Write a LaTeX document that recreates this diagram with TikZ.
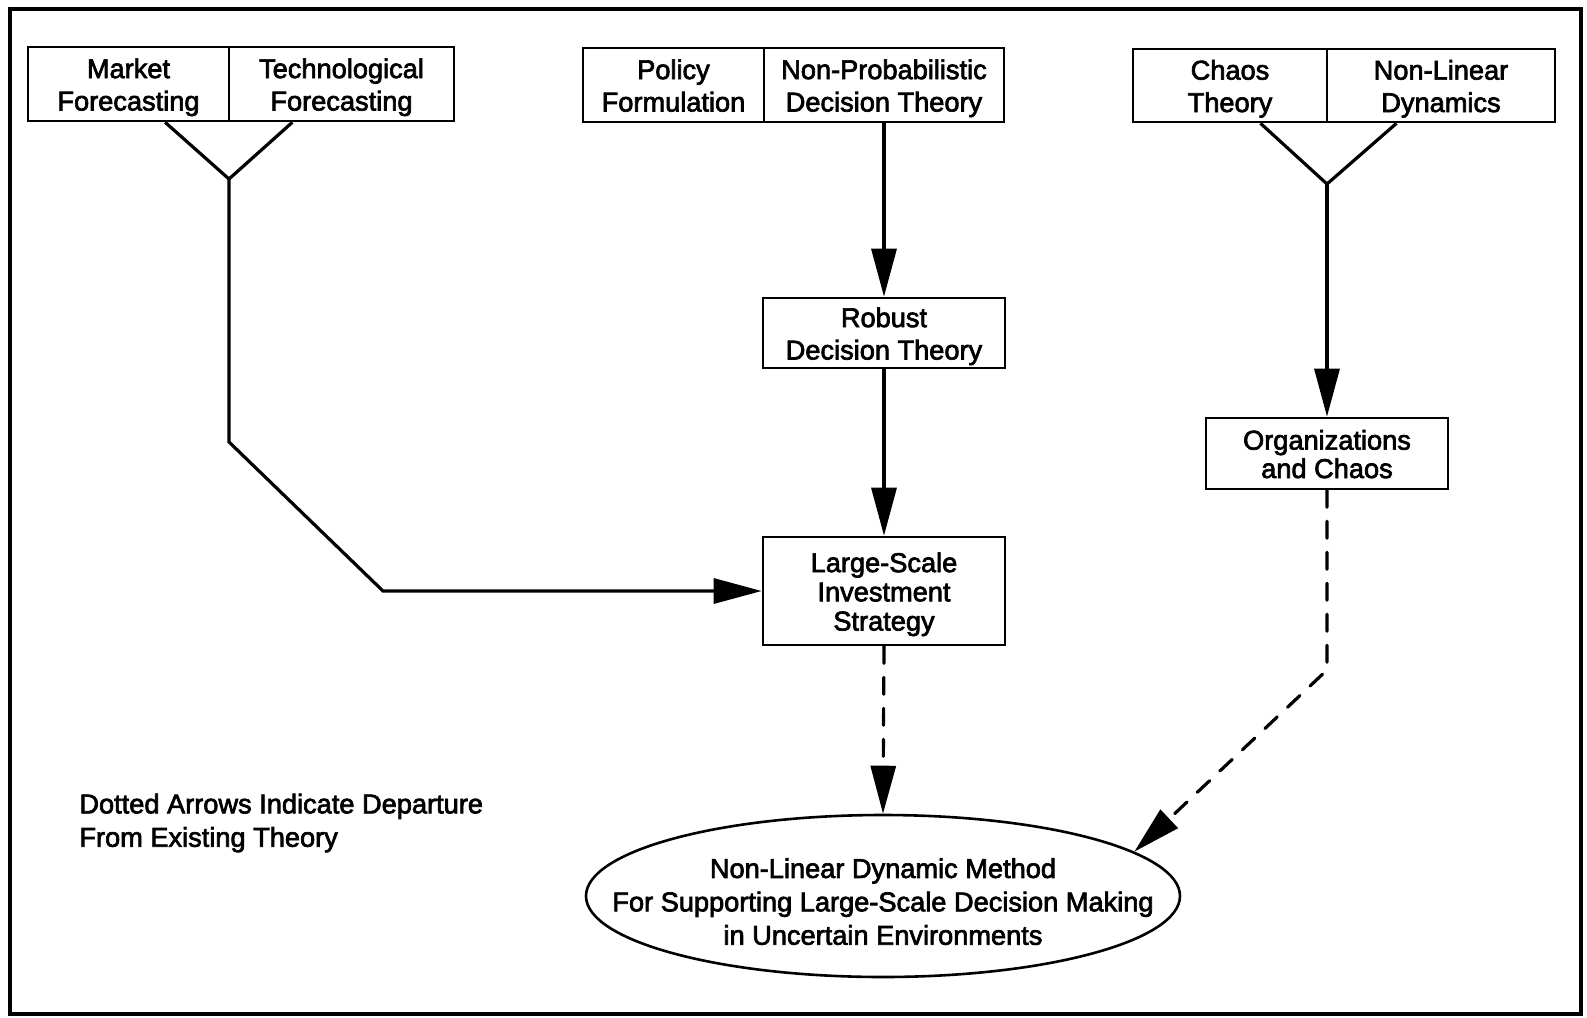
\documentclass[tikz,border=0pt]{standalone}
\usepackage{fontspec}
\setmainfont{Liberation Sans}[FakeBold=2.5]
\usetikzlibrary{arrows.meta,calc,shapes.geometric}

% struts that keep the lines of a box centred on their letters, not on descenders
\newcommand{\topstrut}{\rule{0pt}{13.3pt}}
\newcommand{\botstrut}{\rule[-3pt]{0pt}{3pt}}
\newcommand{\boxlines}[1]{\topstrut#1\botstrut}

\begin{document}
\begin{tikzpicture}[x=0.5pt,y=-0.5pt,
  txt/.style={font=\fontsize{13.6}{16.2}\selectfont},
  box/.style={txt,draw,line width=1.3pt,inner sep=0pt,align=center,minimum height=37pt},
  conn/.style={line width=1.6pt,line join=miter},
  tip/.style={-{Triangle[length=24pt,width=12.5pt]}},
  dashline/.style={line width=1.6pt,line cap=round,line join=round,
                   dash pattern=on 8.5pt off 7pt}
]
\useasboundingbox (0,0) rectangle (1587,1018);

% outer frame
\draw[line width=1.8pt] (10,9) rectangle (1581,1014);

% top row of paired boxes
\node[box,minimum width=100.5pt] (mkt)   at (128.5,84) {\boxlines{Market\\Forecasting}};
\node[box,minimum width=112.5pt] (tech)  at (341.5,84) {\boxlines{Technological\\Forecasting}};
\node[box,minimum width=90.5pt]  (pol)   at (673.5,85) {\boxlines{Policy\\Formulation}};
\node[box,minimum width=120pt]   (npd)   at (884,85)   {\boxlines{Non-Probabilistic\\Decision Theory}};
\node[box,minimum width=97pt,minimum height=36.5pt]  (chaos) at (1230,85.5) {\boxlines{Chaos\\Theory}};
\node[box,minimum width=114pt,minimum height=36.5pt] (nld)   at (1441,85.5) {\boxlines{Non-Linear\\Dynamics}};

% middle boxes
\node[box,minimum width=121pt,minimum height=35pt]   (robust) at (884,333)    {\boxlines{Robust\\Decision Theory}};
\node[box,minimum width=121pt,minimum height=35.5pt,
      font=\fontsize{13.6}{14.2}\selectfont]         (org)    at (1327,453.5) {\boxlines{Organizations\\and Chaos}};
\node[box,minimum width=121pt,minimum height=54pt,
      font=\fontsize{13.6}{14.6}\selectfont]         (lsi)    at (884,591)    {\boxlines{Large-Scale\\Investment\\Strategy}};

% goal ellipse and its text
\node[draw,ellipse,line width=1.3pt,inner sep=0pt,
      minimum width=297pt,minimum height=81pt] (goal) at (883,896) {};
\node[txt,align=center,inner sep=0pt,yshift=-2.8pt,
      font=\fontsize{13.6}{16.7}\selectfont] (goaltext) at (goal.center)
  {Non-Linear Dynamic Method\\For Supporting Large-Scale Decision Making\\in Uncertain Environments};

% legend
\node[txt,anchor=west,align=left,inner sep=0pt,
      font=\fontsize{13.6}{16.7}\selectfont] (legend) at (79,823)
  {Dotted Arrows Indicate Departure\\From Existing Theory};

% junction and bend points
\coordinate (mv)  at (229,179);
\coordinate (mb1) at (229,442);
\coordinate (mb2) at (383,591);
\coordinate (cv)  at (1327,184);
\coordinate (cb)  at (1327,670);

% forecasting branch
\draw[conn] ($(mkt.south west)!0.68!(mkt.south east)$) -- (mv)
            -- ($(tech.south west)!0.284!(tech.south east)$);
\draw[conn,tip] (mv) -- (mb1) -- (mb2) -- (lsi.west);

% decision theory branch
\draw[conn,tip] (npd.south) -- (robust.north);
\draw[conn,tip] (robust.south) -- (lsi.north);

% chaos branch
\draw[conn] ($(chaos.south west)!0.655!(chaos.south east)$) -- (cv)
            -- ($(nld.south west)!0.307!(nld.south east)$);
\draw[conn,tip] (cv) -- (org.north);

% departures from existing theory
\draw[dashline,tip] (lsi.south) -- (goal.north);
\draw[dashline,tip] (org.south) -- (cb) -- (goal.10);
\end{tikzpicture}
\end{document}
